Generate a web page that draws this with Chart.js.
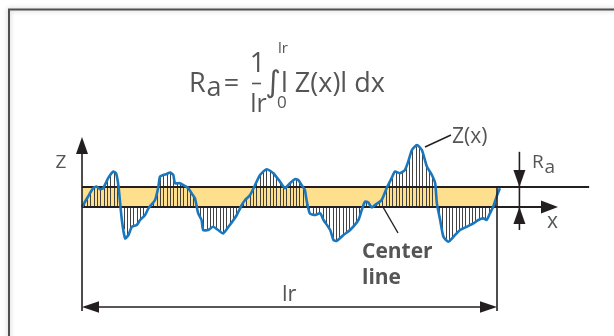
<!DOCTYPE html>
<html>
<head>
<meta charset="utf-8">
<script src="https://cdn.jsdelivr.net/npm/chart.js@4.4.0/dist/chart.umd.min.js"></script>
<style>
    html, body { margin: 0; padding: 0; background: #fff; }
    canvas { display: block; }
</style>
</head>
<body>
<canvas id="raChart" width="614" height="336"></canvas>
<script>
// Profile Z(x): x in % of the sampling length lr, z in units of Ra
const profileX = [0, 1.4, 2.7, 3.5, 4.3, 5.1, 6.3, 7.5, 8.2, 8.8, 9.6, 10.4, 11.2, 12.0, 13.2, 14.0, 15.2, 16.0,
    17.6, 18.4, 18.8, 19.6, 20.4, 21.2, 22.0, 22.4, 23.6, 24.8, 25.6, 26.4, 27.2, 28.0, 28.8, 29.2, 30.4, 31.6,
    32.8, 34.0, 35.3, 36.5, 37.3, 38.5, 39.3, 40.5, 41.7, 42.9, 44.5, 46.1, 47.7, 48.9, 50.1, 51.3, 52.1, 52.9,
    53.7, 54.1, 54.9, 56.1, 57.4, 58.2, 59.8, 60.6, 61.4, 63.0, 64.6, 66.6, 67.4, 68.2, 69.0, 69.8, 70.6, 72.2,
    73.4, 74.6, 75.4, 76.6, 77.8, 78.6, 79.5, 80.7, 81.9, 83.1, 84.3, 85.1, 85.5, 86.3, 87.1, 88.3, 89.5, 91.1,
    92.7, 94.3, 95.5, 96.7, 97.5, 98.3, 99.1, 99.9, 100.7];
const profileZ = [0, 0.50, 0.94, 1.02, 0.89, 0.94, 1.44, 1.77, 1.69, 1.02, -0.65, -1.57, -1.40, -0.99, -0.90, -0.65, -0.40, -0.07,
    0.35, 1.02, 1.52, 1.60, 1.65, 1.72, 1.60, 1.19, 1.19, 1.05, 0.94, 0.69, 0.44, -0.32, -0.65, -1.15, -1.15, -0.99,
    -1.15, -1.32, -0.99, -0.65, -0.40, 0.10, 0.35, 0.60, 1.10, 1.60, 1.89, 1.69, 1.27, 0.94, 1.19, 1.39, 1.35, 1.10,
    0.85, 0.35, -0.32, -0.40, -0.32, -0.65, -1.15, -1.65, -1.69, -1.40, -1.15, -0.65, -0.15, 0.27, 0.22, -0.02, 0.10, 0.35,
    0.94, 1.44, 1.77, 1.69, 1.85, 2.27, 2.85, 3.10, 2.85, 2.02, 1.60, 1.19, 0.19, -0.65, -1.49, -1.74, -1.49, -1.15,
    -0.99, -0.82, -0.65, -0.57, -0.65, -0.32, 0.02, 0.52, 0.94];
const raLevel = 1.0;     // Ra band height
const lrLength = 100;    // sampling length lr
const hatchStep = 0.8;   // spacing of the hatch lines

const textColor = '#555555';
const inkColor = '#231f20';

function zAt(x) {
    for (let i = 1; i < profileX.length; i++) {
        if (x <= profileX[i]) {
            const t = (x - profileX[i - 1]) / (profileX[i] - profileX[i - 1]);
            return profileZ[i - 1] + t * (profileZ[i] - profileZ[i - 1]);
        }
    }
    return profileZ[profileZ.length - 1];
}

function arrowHead(ctx, x1, y1, x2, y2, len, half) {
    const a = Math.atan2(y2 - y1, x2 - x1);
    ctx.beginPath();
    ctx.moveTo(x2, y2);
    ctx.lineTo(x2 - len * Math.cos(a) + half * Math.sin(a), y2 - len * Math.sin(a) - half * Math.cos(a));
    ctx.lineTo(x2 - len * Math.cos(a) - half * Math.sin(a), y2 - len * Math.sin(a) + half * Math.cos(a));
    ctx.closePath();
    ctx.fill();
}

function seg(ctx, x1, y1, x2, y2) {
    ctx.beginPath();
    ctx.moveTo(x1, y1);
    ctx.lineTo(x2, y2);
    ctx.stroke();
}

function txt(ctx, s, x, y, font, align) {
    ctx.font = font;
    ctx.textAlign = align || 'left';
    ctx.fillText(s, x, y);
}

const roughnessPlugin = {
    id: 'roughness',
    beforeDraw(chart) {
        const ctx = chart.ctx;
        ctx.save();
        ctx.fillStyle = '#fff';
        ctx.fillRect(0, 0, chart.width, chart.height);
        // frame with soft shadow
        ctx.shadowColor = 'rgba(0,0,0,0.25)';
        ctx.shadowBlur = 5;
        ctx.strokeStyle = '#505050';
        ctx.lineWidth = 2;
        ctx.beginPath();
        ctx.moveTo(9, chart.height + 5);
        ctx.lineTo(9, 9.5);
        ctx.lineTo(chart.width + 5, 9.5);
        ctx.stroke();
        ctx.restore();
    },
    afterDatasetDraw(chart, args) {
        if (args.index !== 0) return;
        const ctx = chart.ctx;
        const xs = chart.scales.x, ys = chart.scales.y;
        const y0 = ys.getPixelForValue(0);
        ctx.save();
        // hatching between profile and centre line
        ctx.strokeStyle = '#2e2e2e';
        ctx.lineWidth = 0.9;
        for (let x = hatchStep / 2; x < lrLength; x += hatchStep) {
            const px = Math.round(xs.getPixelForValue(x)) + 0.5;
            seg(ctx, px, y0, px, ys.getPixelForValue(zAt(x)));
        }
        // Ra line and centre line
        ctx.strokeStyle = inkColor;
        ctx.lineWidth = 1.8;
        const yRa = ys.getPixelForValue(raLevel);
        seg(ctx, xs.getPixelForValue(0), yRa, xs.getPixelForValue(122.2), yRa);
        seg(ctx, xs.getPixelForValue(0), y0, xs.getPixelForValue(112), y0);
        ctx.restore();
    },
    afterDraw(chart) {
        const ctx = chart.ctx;
        const xs = chart.scales.x, ys = chart.scales.y;
        const px = v => xs.getPixelForValue(v);
        const py = v => ys.getPixelForValue(v);
        ctx.save();
        ctx.strokeStyle = inkColor;
        ctx.fillStyle = inkColor;
        ctx.lineWidth = 1.6;

        // centre line arrow (x axis)
        arrowHead(ctx, px(0), py(0), px(114.7), py(0), 17, 6.5);
        // Z axis
        seg(ctx, px(0), py(3.0), px(0), py(-5.2));
        arrowHead(ctx, px(0), py(0), px(0), py(3.5), 17, 6);
        // lr end line and dimension arrow
        seg(ctx, px(lrLength), py(raLevel), px(lrLength), py(-5.2));
        seg(ctx, px(3), py(-5.0), px(lrLength - 3), py(-5.0));
        arrowHead(ctx, px(50), py(-5.0), px(0), py(-5.0), 17, 5.8);
        arrowHead(ctx, px(50), py(-5.0), px(lrLength), py(-5.0), 17, 5.8);
        // Ra dimension arrows
        const rx = px(105.4);
        seg(ctx, rx, py(2.76), rx, py(-1.15));
        arrowHead(ctx, rx, py(2.76), rx, py(raLevel), 17, 6);
        arrowHead(ctx, rx, py(-1.15), rx, py(0), 17, 6);
        // leaders
        ctx.lineWidth = 1.4;
        seg(ctx, 425, 147, 451, 135);
        seg(ctx, 383, 207, 398, 233);

        // texts
        ctx.fillStyle = textColor;
        ctx.textBaseline = 'alphabetic';
        const f = '"Open Sans", "DejaVu Sans", sans-serif';
        txt(ctx, 'R', 189, 92, '27px ' + f);
        txt(ctx, 'a', 206.5, 96, '27px ' + f);
        txt(ctx, '=', 231.5, 92, '27px ' + f, 'center');
        txt(ctx, '1', 257.5, 72, '27px ' + f, 'center');
        ctx.strokeStyle = textColor;
        ctx.lineWidth = 1.6;
        seg(ctx, 252, 83.5, 261, 83.5);
        txt(ctx, 'lr', 258.5, 111.5, '25px ' + f, 'center');
        txt(ctx, '\u222B', 273, 92, '30px "DejaVu Sans", sans-serif', 'center');
        txt(ctx, 'lr', 278, 53, '15px ' + f);
        txt(ctx, '0', 277, 107.5, '17px ' + f);
        txt(ctx, 'l Z(x)l dx', 281, 92, '27px ' + f);

        txt(ctx, 'Z', 55.5, 167.5, '19px ' + f);
        txt(ctx, 'Z(x)', 452, 143, '21px ' + f);
        txt(ctx, 'R', 532, 168, '19px ' + f);
        txt(ctx, 'a', 544.5, 172.5, '19px ' + f);
        txt(ctx, 'x', 547, 228, '21px ' + f);
        txt(ctx, 'lr', 282, 301, '22px ' + f);
        txt(ctx, 'Center', 362, 258, 'bold 21px ' + f);
        txt(ctx, 'line', 362, 283.5, 'bold 21px ' + f);
        ctx.restore();
    }
};

new Chart(document.getElementById('raChart'), {
    type: 'line',
    data: {
        datasets: [
            {
                label: 'Ra band',
                data: [{ x: 0, y: raLevel }, { x: lrLength, y: raLevel }],
                backgroundColor: '#fddf8d',
                borderWidth: 0,
                pointRadius: 0,
                fill: 'origin',
                order: 2
            },
            {
                label: 'Z(x)',
                data: profileX.map((x, i) => ({ x: x, y: profileZ[i] })),
                borderColor: '#1a76bd',
                borderWidth: 2.6,
                pointRadius: 0,
                tension: 0.2,
                fill: false,
                order: 1
            }
        ]
    },
    options: {
        responsive: false,
        devicePixelRatio: 1,
        animation: false,
        events: [],
        layout: { padding: 0 },
        scales: {
            x: { type: 'linear', min: -19.76, max: 128.19, display: false },
            y: { type: 'linear', min: -6.45, max: 10.35, display: false }
        },
        plugins: {
            legend: { display: false },
            tooltip: { enabled: false }
        }
    },
    plugins: [roughnessPlugin]
});
</script>
</body>
</html>
